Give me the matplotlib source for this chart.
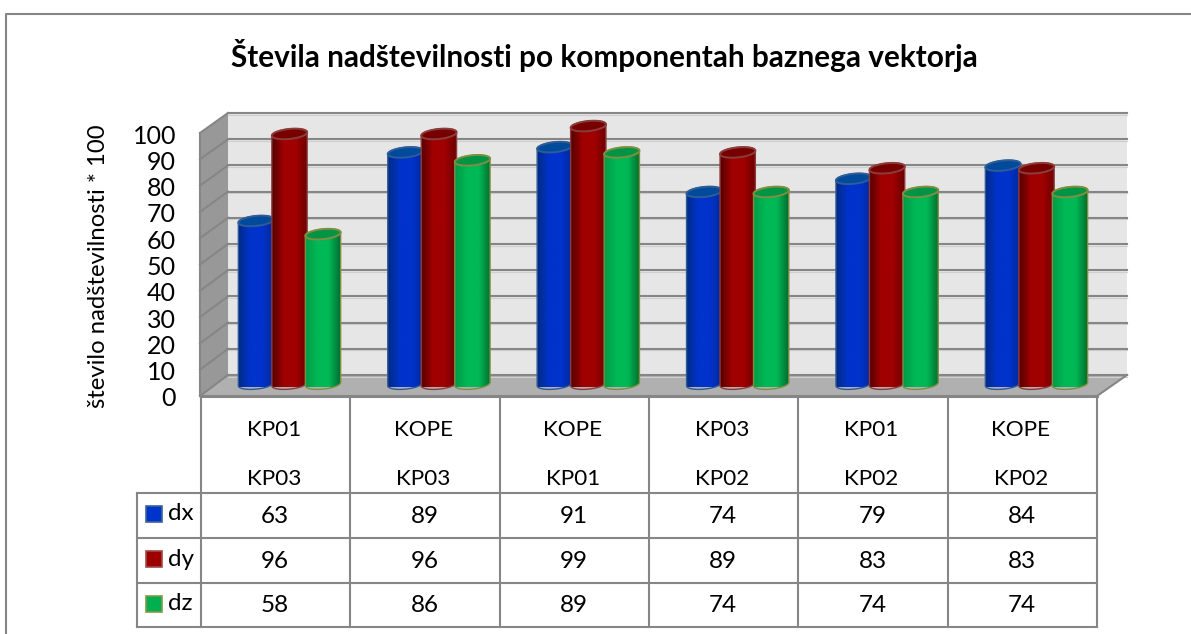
import numpy as np
import matplotlib
matplotlib.use("Agg")
import matplotlib.pyplot as plt
from matplotlib.colors import LinearSegmentedColormap
from matplotlib.patches import Polygon, PathPatch
from matplotlib.path import Path

plt.rcParams['font.family'] = ['Lato', 'DejaVu Sans']

cat_top = ["KP01", "KOPE", "KOPE", "KP03", "KP01", "KOPE"]
cat_bottom = ["KP03", "KP03", "KP01", "KP02", "KP02", "KP02"]
dx = [63, 89, 91, 74, 79, 84]
dy = [96, 96, 99, 89, 83, 83]
dz = [58, 86, 89, 74, 74, 74]
names = ["dx", "dy", "dz"]
yticks = list(range(0, 101, 10))

W, H = 1191, 634
GRID = "#868686"
fig = plt.figure(figsize=(W / 100, H / 100), dpi=100)

# pixel axes for the frame, the 3d box and the table
bg = fig.add_axes([0, 0, 1, 1])
bg.set_xlim(0, W)
bg.set_ylim(H, 0)
bg.axis("off")

bg.plot([6, 6, W], [H, 14, 14], color="#868686", lw=1.5)
bg.add_patch(Polygon([(228, 113), (1127, 113), (1127, 375), (228, 375)], fc="#e6e6e6", ec="none"))
bg.add_patch(Polygon([(200, 133), (228, 113), (228, 375), (200, 396)], fc="#989898", ec="none"))
bg.add_patch(Polygon([(200, 396), (228, 375), (1127, 375), (1097, 396)], fc="#b0b0b0", ec="none"))
for t in yticks:
    yb = 375 - t * 2.62
    yf = 396 - t * 2.63
    bg.plot([228, 1127], [yb + 1.5, yb + 1.5], color="#cfcfcf", lw=0.8)
    bg.plot([228, 1127], [yb, yb], color=GRID, lw=1.5)
    bg.plot([200, 228], [yf, yb], color=GRID, lw=1.5)
    bg.text(176, yf + 3, str(t), ha="right", va="center", fontsize=18, color="black")
bg.plot([1097, 1127], [396, 375], color=GRID, lw=1.5)
bg.plot([200, 200], [133, 396], color=GRID, lw=1.5)

bg.text(604, 55, "Števila nadštevilnosti po komponentah baznega vektorja",
        ha="center", va="center", fontsize=21.4, fontweight="bold")
bg.text(99, 266, "število nadštevilnosti * 100", rotation=90,
        ha="center", va="center", fontsize=17.2)

# table
col_x = [201 + 149.33 * i for i in range(7)]
row_y = [493, 538, 583, 627]
for x in col_x:
    bg.plot([x, x], [396, 627], color=GRID, lw=1.5, solid_capstyle="projecting")
bg.plot([201, 1097], [396, 396], color=GRID, lw=2.2)
for y in row_y:
    bg.plot([137, 1097], [y, y], color=GRID, lw=1.5, solid_capstyle="projecting")
bg.plot([137, 137], [493, 627], color=GRID, lw=1.5, solid_capstyle="projecting")

swatch = ["#0033cc", "#9c0000", "#00b050"]
swatch_edge = ["#3a6596", "#a04a4a", "#7f9a48"]
for i, vals in enumerate([dx, dy, dz]):
    yc = (row_y[i] + row_y[i + 1]) / 2
    bg.add_patch(Polygon([(146, yc - 9.5), (162, yc - 9.5), (162, yc + 6.5), (146, yc + 6.5)],
                         fc=swatch[i], ec=swatch_edge[i], lw=1.2))
    bg.text(168, yc - 1.5, names[i], ha="left", va="center", fontsize=17.5)
    for j, v in enumerate(vals):
        bg.text((col_x[j] + col_x[j + 1]) / 2 - 0.5, yc + 1, str(v), ha="center", va="center", fontsize=17.5)
for j in range(6):
    xc = (col_x[j] + col_x[j + 1]) / 2
    bg.text(xc - 1.5, 430, cat_top[j], ha="center", va="center", fontsize=16.2)
    bg.text(xc - 1.5, 479, cat_bottom[j], ha="center", va="center", fontsize=16.2)

# bars: x is the category index, y the value
PX_X = 149.4
PX_Y = 2.636
x0_px, y0_px = 289.5, 387
ax_l, ax_r, ax_t, ax_b = 190, 1140, 100, 400
ax = fig.add_axes([ax_l / W, 1 - ax_b / H, (ax_r - ax_l) / W, (ax_b - ax_t) / H])
ax.patch.set_alpha(0)
ax.axis("off")

BASE = 1.1
bar_w = 35.5 / PX_X
step = 33.5 / PX_X
b = 5.0  # ellipse half height, px
tilt = np.radians(6)
styles = [
    (["#002b85", "#0033cc", "#0033cc", "#00289a"], "#004a9c", "#2f5c96"),
    (["#560000", "#a00000", "#a00000", "#6a0000"], "#760000", "#8c3c3c"),
    (["#009a48", "#00b855", "#00b855", "#006c30"], "#009444", "#7f8f3f"),
]


def ellipse(xc, yc, t):
    a = bar_w / 2 * PX_X
    ex = a * np.cos(t) * np.cos(tilt) - b * np.sin(t) * np.sin(tilt)
    ey = a * np.cos(t) * np.sin(tilt) + b * np.sin(t) * np.cos(tilt)
    return xc + ex / PX_X, yc + ey / PX_Y


for s, vals in enumerate([dx, dy, dz]):
    cols, top_col, edge = styles[s]
    cmap = LinearSegmentedColormap.from_list("c%d" % s, cols)
    for i, v in enumerate(vals):
        xc = i + (s - 1) * step
        tx, ty = ellipse(xc, v, np.linspace(0, np.pi, 40))
        bx, by = ellipse(xc, BASE, np.linspace(np.pi, 2 * np.pi, 40))
        body = np.column_stack([np.r_[tx, bx], np.r_[ty, by]])
        z = 3 + s + i * 10
        im = ax.imshow(np.linspace(0, 1, 64).reshape(1, -1), cmap=cmap, aspect="auto",
                       extent=[xc - bar_w / 2, xc + bar_w / 2, 0, v + 5], zorder=z)
        patch = PathPatch(Path(np.vstack([body, body[:1]]), closed=True),
                          fc="none", ec=edge, lw=1.0, zorder=z + 0.1)
        ax.add_patch(patch)
        im.set_clip_path(patch)
        ex, ey = ellipse(xc, v, np.linspace(0, 2 * np.pi, 60))
        ax.add_patch(Polygon(np.column_stack([ex, ey]), fc=top_col, ec=edge, lw=1.4, zorder=z + 0.2))

ax.set_xlim((ax_l - x0_px) / PX_X, (ax_r - x0_px) / PX_X)
ax.set_ylim((y0_px - ax_b) / PX_Y, (y0_px - ax_t) / PX_Y)

fig.savefig("out.png", dpi=100)
